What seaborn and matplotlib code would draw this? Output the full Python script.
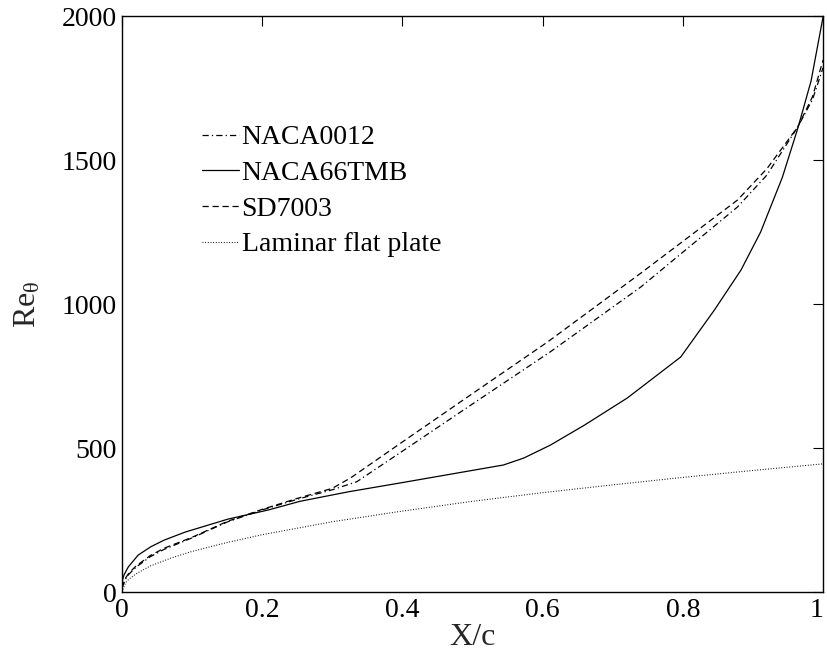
import matplotlib
matplotlib.use("Agg")
import matplotlib.pyplot as plt
import seaborn as sns

# ---- data ----
x_naca0012 = [0, 0.005, 0.01, 0.02, 0.04, 0.06, 0.1, 0.15, 0.2, 0.25, 0.3, 0.335,
              0.4, 0.5, 0.611, 0.74, 0.878, 0.92, 0.964, 0.985, 1.0]
y_naca0012 = [15, 45, 62, 86, 122, 148, 188, 243, 285, 322, 355, 383,
              489, 653, 834, 1059, 1337, 1448, 1615, 1710, 1820]

x_naca66 = [0, 0.003, 0.009, 0.023, 0.041, 0.06, 0.09, 0.151, 0.209, 0.254, 0.323,
            0.4, 0.544, 0.573, 0.611, 0.66, 0.721, 0.797, 0.845, 0.883, 0.911,
            0.942, 0.964, 0.983, 1.0]
y_naca66 = [35, 60, 87, 128, 157, 180, 208, 253, 285, 315, 348,
            380, 441, 465, 510, 580, 674, 816, 979, 1118, 1250,
            1440, 1610, 1775, 1997]

x_sd7003 = [0, 0.005, 0.01, 0.02, 0.04, 0.06, 0.1, 0.15, 0.2, 0.25, 0.3, 0.326,
            0.4, 0.5, 0.607, 0.74, 0.878, 0.92, 0.964, 0.985, 1.0]
y_sd7003 = [15, 48, 66, 90, 126, 152, 190, 245, 287, 325, 360, 396,
            521, 689, 868, 1107, 1361, 1470, 1615, 1720, 1847]

x_lam = [0, 0.005, 0.01, 0.02, 0.04, 0.07, 0.1, 0.15, 0.2, 0.3, 0.4, 0.5,
         0.6, 0.7, 0.8, 0.9, 1.0]
y_lam = [0, 32, 45, 63, 90, 118, 141, 172, 199, 244, 281, 315,
         345, 372, 398, 422, 445]

labels = ["NACA0012", "NACA66TMB", "SD7003", "Laminar flat plate"]
x_ticks = [0, 0.2, 0.4, 0.6, 0.8, 1.0]
x_ticklabels = ["0", "0.2", "0.4", "0.6", "0.8", "1"]
y_ticks = [0, 500, 1000, 1500, 2000]
y_ticklabels = ["0", "500", "1000", "1500", "2000"]

# ---- style ----
sns.set_style("white")
plt.rcParams["font.family"] = ["Liberation Serif", "DejaVu Serif"]
plt.rcParams["mathtext.fontset"] = "custom"
plt.rcParams["mathtext.rm"] = "Liberation Serif"
plt.rcParams["mathtext.it"] = "Liberation Serif:italic"

FS = 20

fig = plt.figure(figsize=(8.28, 6.51), dpi=100)
ax = fig.add_axes([0.1473, 0.0906, 0.8467, 0.8848])

lw = 0.9
sns.lineplot(x=x_naca0012, y=y_naca0012, ax=ax, color="black", lw=lw,
             label=labels[0], estimator=None, sort=False)
ax.lines[-1].set_dashes([5, 2.5, 1, 2.5])
sns.lineplot(x=x_naca66, y=y_naca66, ax=ax, color="black", lw=lw,
             label=labels[1], estimator=None, sort=False)
sns.lineplot(x=x_sd7003, y=y_sd7003, ax=ax, color="black", lw=lw,
             label=labels[2], estimator=None, sort=False)
ax.lines[-1].set_dashes([5, 3])
sns.lineplot(x=x_lam, y=y_lam, ax=ax, color="black", lw=0.8,
             label=labels[3], estimator=None, sort=False)
ax.lines[-1].set_dashes([0.8, 1.6])

ax.set_xlim(0, 1)
ax.set_ylim(0, 2000)
ax.set_xticks(x_ticks)
ax.set_xticklabels(x_ticklabels)
ax.set_yticks(y_ticks)
ax.set_yticklabels(y_ticklabels)
ax.tick_params(direction="in", top=True, right=True, length=7, width=0.8,
               labelsize=FS, colors="black")
ax.tick_params(axis="x", pad=4)
ax.tick_params(axis="y", pad=3.5)
# keep the last x tick label inside the canvas
ax.get_xticklabels()[-1].set_horizontalalignment("right")
for s in ax.spines.values():
    s.set_linewidth(1.0)
    s.set_color("black")

ax.set_xlabel("X/c", fontsize=23, labelpad=0)
ax.set_ylabel(r"Re$_{\mathrm{θ}}$", fontsize=23, labelpad=14)

leg = ax.legend(loc="upper left", bbox_to_anchor=(0.114, 0.811), frameon=False,
                fontsize=FS, handlelength=1.33, handletextpad=0.1,
                labelspacing=0.37, borderaxespad=0, borderpad=0)
for t in leg.get_texts():
    t.set_color("black")

fig.savefig("out.png", dpi=100)
